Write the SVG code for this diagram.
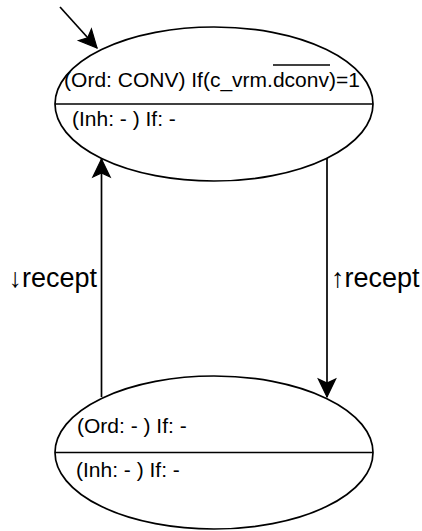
<svg xmlns="http://www.w3.org/2000/svg" width="422" height="531" viewBox="0 0 422 531">
<style>
.st{fill:#fff;stroke:#000;stroke-width:1.7}
.dv{stroke:#000;stroke-width:1.7}
.t{font-family:"Liberation Sans",Arial,sans-serif;font-size:21px;fill:#000}
.lb{font-family:"Liberation Sans",Arial,sans-serif;font-size:27px;fill:#000}
.c{fill:none;stroke:#000;stroke-width:1.7}
</style>
<defs>
<marker id="ah" markerUnits="userSpaceOnUse" markerWidth="22" markerHeight="22" refX="0" refY="0" viewBox="-17 -9 19 18" orient="auto">
<path d="M0,0 L-15.5,-7.5 L-12,0 L-15.5,7.5 Z" fill="#000" stroke="#000" stroke-width="1"/>
</marker>
</defs>
<rect width="422" height="531" fill="#fff"/>
<g id="s1">
<ellipse class="st" cx="214" cy="104" rx="159" ry="77"/>
<line class="dv" x1="55" y1="104" x2="373" y2="104"/>
<text class="t" x="212" y="87" text-anchor="middle">(Ord: CONV) If(c_vrm.dconv)=1</text>
<line x1="273" y1="65" x2="330" y2="65" stroke="#000" stroke-width="1.6"/>
<text class="t" x="72" y="126">(Inh: - ) If: -</text>
</g>
<g id="s2">
<ellipse class="st" cx="214" cy="452.5" rx="159" ry="76.5"/>
<line class="dv" x1="55" y1="452.5" x2="373" y2="452.5"/>
<text class="t" x="77" y="433">(Ord: - ) If: -</text>
<text class="t" x="76" y="477">(Inh: - ) If: -</text>
</g>
<g id="connectors">
<line class="c" x1="60" y1="7" x2="97" y2="48" marker-end="url(#ah)"/>
<line class="c" x1="101.5" y1="397" x2="101.5" y2="159" marker-end="url(#ah)"/>
<line class="c" x1="327" y1="158" x2="327" y2="397" marker-end="url(#ah)"/>
<text class="lb" x="97" y="287" text-anchor="end">↓recept</text>
<text class="lb" x="331" y="287">↑recept</text>
</g>
</svg>
